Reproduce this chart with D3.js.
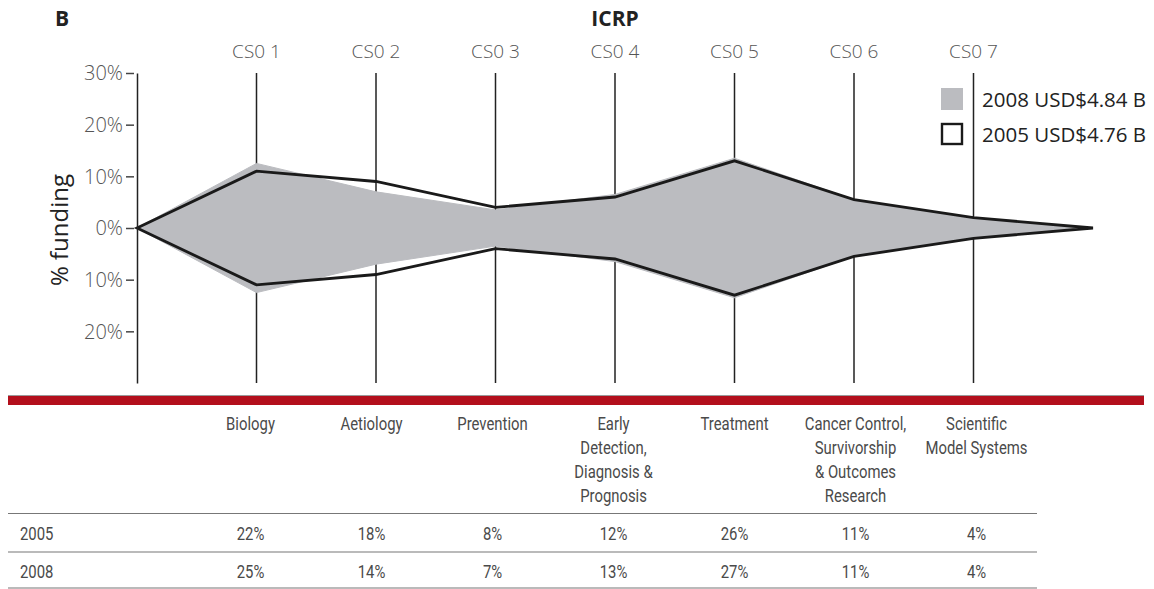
<!DOCTYPE html>
<html><head><meta charset="utf-8">
<script src="https://cdn.jsdelivr.net/npm/d3@7"></script>
<style>
body{margin:0;background:#fff;}
svg{display:block;}
.lt{font-family:"Open Sans","Noto Sans",sans-serif;font-weight:300;fill:#555;}
.nar{font-family:"Roboto","Noto Sans",sans-serif;fill:#4a4a4a;}
</style></head>
<body><svg id="c" width="1154" height="589"></svg>
<script>
const codes = ["CS0 1","CS0 2","CS0 3","CS0 4","CS0 5","CS0 6","CS0 7"];
const categories = [["Biology"],["Aetiology"],["Prevention"],["Early","Detection,","Diagnosis &","Prognosis"],["Treatment"],["Cancer Control,","Survivorship","& Outcomes","Research"],["Scientific","Model Systems"]];
const values2005 = [22,18,8,12,26,11,4];
const values2008 = [25,14,7,13,27,11,4];
const yTicks = [30,20,10,0,-10,-20];
const legendItems = [{label:"2008 USD$4.84 B", key:"2008"},{label:"2005 USD$4.76 B", key:"2005"}];

const svg = d3.select("#c");
const keys = ["start", ...codes, "end"];
const x = d3.scalePoint().domain(keys).range([137,1093]);
const y = d3.scaleLinear().domain([-30,30]).range([383,73]);
const tx = d3.scalePoint().domain(codes).range([250.5,976.5]);
const SX = 0.85;

// title
svg.append("text").attr("x",55).attr("y",26).attr("font-family","Open Sans, sans-serif").attr("font-weight",700).attr("font-size",21).attr("fill","#222").text("B");
svg.append("text").attr("x",615).attr("y",26).attr("text-anchor","middle").attr("font-family","Open Sans, sans-serif").attr("font-weight",700).attr("font-size",21).attr("fill","#222").text("ICRP");

function shape(vals){
  const top = [[x("start"),y(0)], ...codes.map((c,i)=>[x(c),y(vals[i]/2)]), [x("end"),y(0)]];
  const bot = codes.map((c,i)=>[x(c),y(-vals[i]/2)]).reverse();
  return d3.line()([...top, ...bot]) + "Z";
}

// vertical category lines
svg.append("g").selectAll("line").data(codes).join("line")
  .attr("x1",d=>x(d)).attr("x2",d=>x(d)).attr("y1",y(30)).attr("y2",y(-30))
  .attr("stroke","#222").attr("stroke-width",1.5);

svg.append("path").attr("d",shape(values2008)).attr("fill","#bbbcc0").attr("stroke","#bbbcc0").attr("stroke-width",1);
svg.append("path").attr("d",shape(values2005)).attr("fill","none").attr("stroke","#1a1a1a").attr("stroke-width",2.8).attr("stroke-linejoin","miter");

// y axis
const ax = svg.append("g").attr("transform",`translate(${x("start")},0)`)
  .call(d3.axisLeft(y).tickValues(yTicks).tickFormat(d=>Math.abs(d)+"%").tickSize(11).tickSizeOuter(0));
ax.select(".domain").attr("stroke","#222").attr("stroke-width",1.5);
ax.selectAll(".tick line").attr("stroke","#444").attr("stroke-width",1.5).attr("x1",-3);
ax.selectAll(".tick text").attr("class","lt").attr("font-size",20).attr("x",-14).attr("dy","0.34em");

// code labels
svg.append("g").selectAll("text").data(codes).join("text").attr("class","lt")
  .attr("x",d=>x(d)).attr("y",58).attr("text-anchor","middle").attr("font-size",19).text(d=>d);

// y label
svg.append("text").attr("transform","translate(68,230) rotate(-90)").attr("text-anchor","middle")
  .attr("font-family","Open Sans, sans-serif").attr("font-size",24).attr("fill","#222").text("% funding");

// legend
const lg = svg.append("g");
legendItems.forEach((it,i)=>{
  const yy = 88 + i*35;
  if(it.key==="2008") lg.append("rect").attr("x",941).attr("y",yy).attr("width",22).attr("height",22).attr("fill","#bbbcc0");
  else lg.append("rect").attr("x",942).attr("y",yy+1).attr("width",20).attr("height",20).attr("fill","#fff").attr("stroke","#1a1a1a").attr("stroke-width",2.4);
  lg.append("text").attr("x",982).attr("y",yy+19).attr("font-family","Open Sans, sans-serif").attr("font-size",20.5).attr("fill","#222").text(it.label);
});

// red bar
svg.append("rect").attr("x",8).attr("y",395).attr("width",1136).attr("height",1.5).attr("fill","#9a9a9a");
svg.append("rect").attr("x",8).attr("y",396).attr("width",1136).attr("height",9).attr("fill","#b30f1c");

// table header
const hg = svg.append("g").selectAll("text").data(codes).join("text").attr("class","nar")
  .attr("text-anchor","middle").attr("font-size",17.5)
  .attr("transform",d=>`translate(${tx(d)},430) scale(${SX},1)`);
hg.each(function(c,i){
  d3.select(this).selectAll("tspan").data(categories[i]).join("tspan")
    .attr("x",0).attr("y",(d,j)=>j*24).text(d=>d);
});

// table rows
const rows = [{label:"2005", vals:values2005, y:540},{label:"2008", vals:values2008, y:578}];
[513.5,552,588].forEach(ly=>svg.append("line").attr("x1",8).attr("x2",1037).attr("y1",ly).attr("y2",ly).attr("stroke","#777").attr("stroke-width",1.2));
rows.forEach(r=>{
  svg.append("text").attr("class","nar").attr("transform",`translate(20,${r.y}) scale(${SX},1)`).attr("font-size",17.5).text(r.label);
  svg.append("g").selectAll("text").data(codes).join("text").attr("class","nar")
    .attr("transform",d=>`translate(${tx(d)},${r.y}) scale(${SX},1)`).attr("text-anchor","middle").attr("font-size",17.5)
    .text((d,i)=>r.vals[i]+"%");
});
</script></body></html>
